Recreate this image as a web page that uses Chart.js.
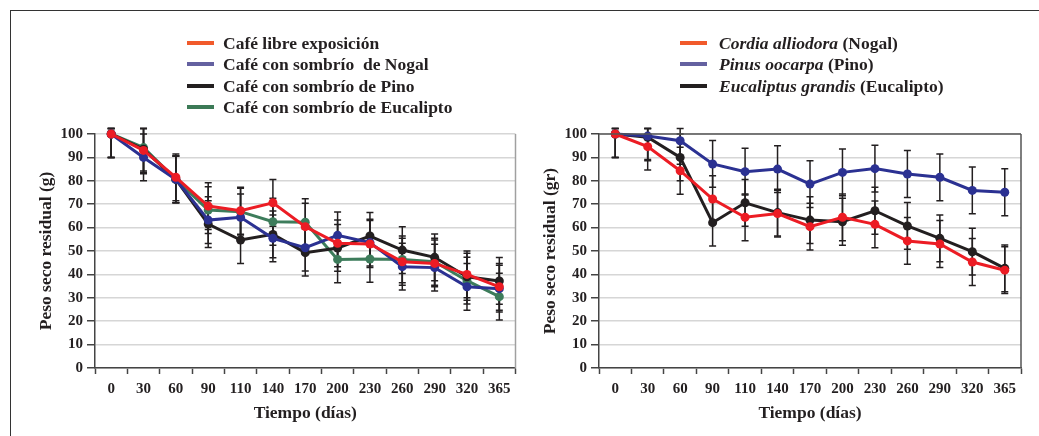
<!DOCTYPE html>
<html>
<head>
<meta charset="utf-8">
<script src="https://cdn.jsdelivr.net/npm/chart.js@4/dist/chart.umd.min.js"></script>
<style>
  html, body { margin: 0; padding: 0; background: #fff; }
  #wrap { position: relative; width: 1039px; height: 436px; overflow: hidden; font-family: "Liberation Serif", "Times New Roman", serif; }
  #frame { position: absolute; left: 10px; top: 10px; width: 1040px; height: 440px; border-top: 1.5px solid #333; border-left: 1.5px solid #333; }
  canvas { position: absolute; top: 0; }
  .legend { position: absolute; font-weight: bold; font-size: 17.5px; color: #231F20; }
  .legend .row { position: absolute; white-space: nowrap; height: 20px; line-height: 20px; }
  .legend .sw { position: absolute; left: 0; top: 8px; width: 27px; height: 4px; }
  .legend .tx { position: absolute; top: 0; }
</style>
</head>
<body>
<div id="wrap">
  <div id="frame"></div>
  <canvas id="c1" width="520" height="436" style="left:0"></canvas>
  <canvas id="c2" width="519" height="436" style="left:520px"></canvas>
  <div class="legend" id="leg1" style="left:187px; top:0"></div>
  <div class="legend" id="leg2" style="left:680px; top:0"></div>
</div>
<script>
// ---------- data ----------
const categories = ['0','30','60','90','110','140','170','200','230','260','290','320','365'];

// Left chart
const cafeLibre     = [100, 93.0, 81.5, 69.2, 67.2, 70.6, 60.4, 53.3, 53.0, 45.4, 44.7, 40.0, 34.7];
const cafeNogal     = [100, 90.0, 80.6, 63.2, 64.4, 55.4, 51.4, 56.7, 53.6, 43.3, 42.9, 34.7, 33.9];
const cafePino      = [100, 93.5, 80.6, 61.5, 54.7, 57.1, 49.3, 51.3, 56.4, 50.4, 47.3, 39.0, 37.2];
const cafeEucalipto = [100, 94.2, 80.6, 67.5, 66.8, 62.5, 62.3, 46.4, 46.6, 46.4, 45.4, 37.3, 30.5];
const errorLeft     = [10, 10, 10, 10, 10, 10, 10, 10, 10, 10, 10, 10, 10];

// Right chart
const cordia        = [100, 94.6, 84.3, 72.2, 64.4, 66.0, 60.4, 64.4, 61.4, 54.3, 53.0, 45.3, 41.8];
const pinus         = [100, 99.1, 97.1, 87.2, 83.9, 85.0, 78.6, 83.6, 85.2, 82.9, 81.5, 75.9, 75.1];
const eucaliptus    = [100, 98.6, 90.0, 62.1, 70.6, 66.4, 63.2, 62.5, 67.2, 60.7, 55.4, 49.7, 42.6];
const errorRight    = [10, 10, 10, 10, 10, 10, 10, 10, 10, 10, 10, 10, 10];

const yTicks = [0, 10, 20, 30, 40, 50, 60, 70, 80, 90, 100];

// ---------- styles ----------
const RED = '#EC1C24', BLUE = '#2B3192', BLACK = '#231F20', GREEN = '#3D7C5B';
const FONT = '"Liberation Serif", "Times New Roman", serif';

const errorBarPlugin = {
  id: 'errbars',
  beforeDatasetsDraw(chart) {
    const ctx = chart.ctx;
    const y = chart.scales.y;
    ctx.save();
    ctx.strokeStyle = '#231F20';
    ctx.lineWidth = 1.5;
    chart.data.datasets.forEach((ds, i) => {
      const meta = chart.getDatasetMeta(i);
      meta.data.forEach((pt, j) => {
        const v = ds.data[j], e = ds.err[j];
        const top = y.getPixelForValue(Math.min(v + e, 102.3));
        const bot = y.getPixelForValue(v - e);
        const x = pt.x;
        ctx.beginPath();
        ctx.moveTo(x, top); ctx.lineTo(x, bot);
        ctx.moveTo(x - 3.5, top); ctx.lineTo(x + 3.5, top);
        ctx.moveTo(x - 3.5, bot); ctx.lineTo(x + 3.5, bot);
        ctx.stroke();
      });
    });
    ctx.restore();
  }
};

const framePlugin = {
  id: 'plotframe',
  afterDraw(chart, args, opts) {
    const a = chart.chartArea, ctx = chart.ctx;
    ctx.save();
    ctx.lineWidth = opts.width || 1.5;
    ctx.strokeStyle = opts.color || '#999';
    ctx.beginPath();
    if (opts.top) { ctx.moveTo(a.left, a.top); ctx.lineTo(a.right, a.top); }
    ctx.moveTo(a.right, a.top); ctx.lineTo(a.right, a.bottom);
    ctx.stroke();
    ctx.restore();
  }
};

function ds(label, data, err, color) {
  return {
    label, data, err,
    borderColor: color, backgroundColor: color,
    borderWidth: 3, pointRadius: 4.5, pointHoverRadius: 4.5,
    pointBackgroundColor: color, pointBorderColor: color, pointBorderWidth: 0,
    tension: 0, clip: false
  };
}

function makeChart(id, datasets, yWidth, padRight, yTitle, yTitlePad, frameOpts) {
  return new Chart(document.getElementById(id), {
    type: 'line',
    data: { labels: categories, datasets },
    plugins: [errorBarPlugin, framePlugin],
    options: {
      responsive: false,
      animation: false,
      devicePixelRatio: 1,
      layout: { padding: { left: 0, top: 134, right: padRight, bottom: 0 } },
      plugins: { legend: { display: false }, tooltip: { enabled: false }, plotframe: frameOpts },
      scales: {
        x: {
          type: 'category',
          offset: true,
          afterFit(s) { s.height = 68; },
          grid: { offset: true, drawOnChartArea: false, drawTicks: true, tickLength: 6, tickColor: '#444', tickWidth: 1.5 },
          border: { display: true, color: '#444', width: 1.5 },
          ticks: { color: '#231F20', padding: 6, maxRotation: 0, autoSkip: false, font: { family: FONT, size: 15, weight: 'bold' } },
          title: { display: true, text: 'Tiempo (días)', color: '#231F20', padding: { top: 0, bottom: 12.5 }, font: { family: FONT, size: 17.5, weight: 'bold' } }
        },
        y: {
          min: 0, max: 100,
          afterFit(s) { s.width = yWidth; },
          afterBuildTicks(s) { s.ticks = yTicks.map(v => ({ value: v })); },
          grid: { color: '#D6D6D6', lineWidth: 1.5, tickLength: 8, tickColor: '#444', tickWidth: 1.5 },
          border: { display: true, color: '#444', width: 1.5 },
          ticks: { color: '#231F20', padding: 4, font: { family: FONT, size: 15, weight: 'bold' } },
          title: { display: true, text: yTitle, color: '#231F20', padding: { top: yTitlePad, bottom: 0 }, font: { family: FONT, size: 17.5, weight: 'bold' } }
        }
      }
    }
  });
}

makeChart('c1', [
  ds('Café libre exposición', cafeLibre, errorLeft, RED),
  ds('Café con sombrío  de Nogal', cafeNogal, errorLeft, BLUE),
  ds('Café con sombrío de Pino', cafePino, errorLeft, BLACK),
  ds('Café con sombrío de Eucalipto', cafeEucalipto, errorLeft, GREEN)
], 95, 2, 'Peso seco residual (g)', 36, { color: '#A0A0A0', top: false, width: 1.5 });

makeChart('c2', [
  ds('Cordia alliodora (Nogal)', cordia, errorRight, RED),
  ds('Pinus oocarpa (Pino)', pinus, errorRight, BLUE),
  ds('Eucaliptus grandis (Eucalipto)', eucaliptus, errorRight, BLACK)
], 79, 18, 'Peso seco residual (gr)', 19.5, { color: '#555', top: true, width: 1.5 });

// ---------- HTML legends ----------
const legendLeft = [
  { color: '#F15A2B', html: 'Café libre exposición' },
  { color: '#6461A0', html: 'Café con sombrío&nbsp; de Nogal' },
  { color: '#231F20', html: 'Café con sombrío de Pino' },
  { color: '#3C7A56', html: 'Café con sombrío de Eucalipto' }
];
const legendRight = [
  { color: '#F15A2B', html: '<i>Cordia alliodora</i> (Nogal)' },
  { color: '#6461A0', html: '<i>Pinus oocarpa</i> (Pino)' },
  { color: '#231F20', html: '<i>Eucaliptus grandis</i> (Eucalipto)' }
];
const rowY = [33, 54, 76, 97];
function buildLegend(el, items, textLeft) {
  items.forEach((it, i) => {
    const r = document.createElement('div');
    r.className = 'row';
    r.style.top = rowY[i] + 'px';
    r.innerHTML = '<div class="sw" style="background:' + it.color + '"></div><div class="tx" style="left:' + textLeft + 'px">' + it.html + '</div>';
    el.appendChild(r);
  });
}
buildLegend(document.getElementById('leg1'), legendLeft, 36);
buildLegend(document.getElementById('leg2'), legendRight, 39);
</script>
</body>
</html>
